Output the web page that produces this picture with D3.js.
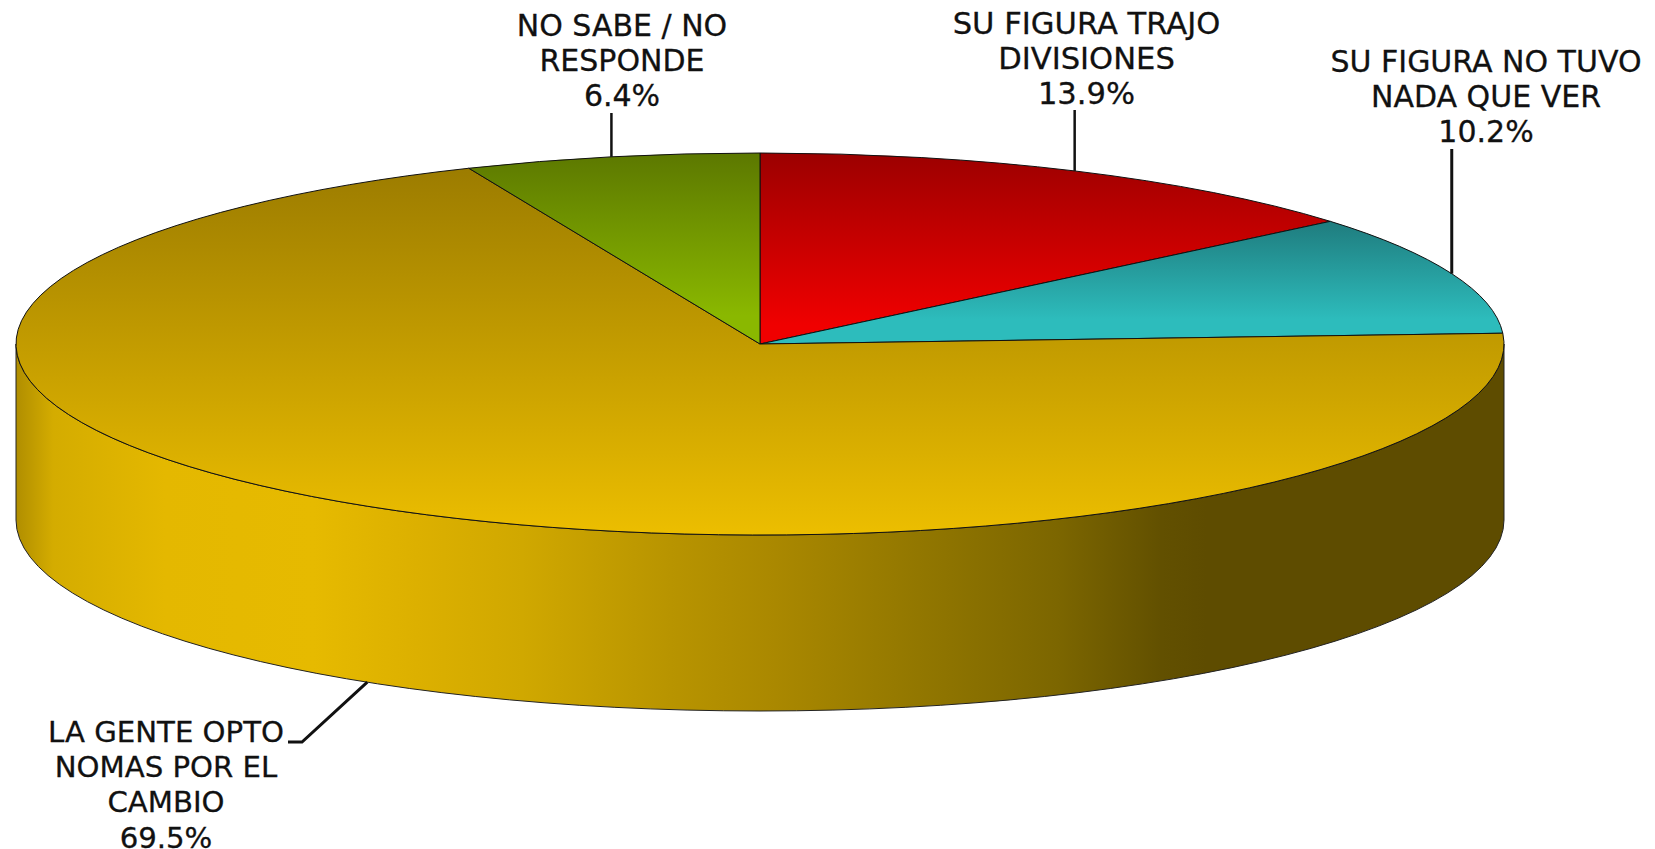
<!DOCTYPE html>
<html lang="en">
<head>
<meta charset="utf-8">
<title>3D Pie</title>
<script src="https://cdn.jsdelivr.net/npm/d3@7"></script>
<style>
  html, body { margin: 0; padding: 0; background: #fff; overflow: hidden; }
  text { font-family: "DejaVu Sans", sans-serif; fill: #111; stroke: #111; stroke-width: 0.3; }
</style>
</head>
<body>
<script>
var w = 1655;
var h = 849;

var categories = ["SU FIGURA TRAJO DIVISIONES", "SU FIGURA NO TUVO NADA QUE VER", "LA GENTE OPTO NOMAS POR EL CAMBIO", "NO SABE / NO RESPONDE"];
var values = [13.9, 10.2, 69.5, 6.4];
var labelLines = [
  ["SU FIGURA TRAJO", "DIVISIONES", "13.9%"],
  ["SU FIGURA NO TUVO", "NADA QUE VER", "10.2%"],
  ["LA GENTE OPTO", "NOMAS POR EL", "CAMBIO", "69.5%"],
  ["NO SABE / NO", "RESPONDE", "6.4%"]
];
var topColors = [
  [[0, "#9c0000"], [0.9, "#f00000"]],
  [[0, "#1f7c7e"], [0.8, "#2dbcbc"]],
  [[0, "#9c7c00"], [1, "#ecbe00"]],
  [[0, "#5c7800"], [0.85, "#8ab800"]]
];
var wallStops = [
  [0, "#b08e00"], [0.025, "#d4ac00"], [0.1, "#e4b800"], [0.2, "#e6ba00"], [0.27, "#dcb000"], [0.34, "#d0a800"],
  [0.44, "#b89400"], [0.51, "#aa8800"], [0.59, "#967a00"], [0.7, "#7c6600"], [0.77, "#625000"], [0.8, "#5e4c00"], [1, "#5e4c00"]
];

var cx = 760, cy = 344, rx = 744, ry = 191, depth = 176;

var svg = d3.select("body").append("svg").attr("width", w).attr("height", h);
var defs = svg.append("defs");

var pie = d3.pie().sort(null).value(function(d) { return d; });
var slices = pie(values);
var arc = d3.arc().innerRadius(0).outerRadius(rx);

function point(angle, drop) {
  return [cx + rx * Math.sin(angle), cy - ry * Math.cos(angle) + (drop || 0)];
}

// wall gradient, runs across the whole width
var wallGrad = defs.append("linearGradient").attr("id", "wall")
  .attr("gradientUnits", "userSpaceOnUse")
  .attr("x1", cx - rx).attr("x2", cx + rx).attr("y1", 0).attr("y2", 0);
wallGrad.selectAll("stop").data(wallStops).enter().append("stop")
  .attr("offset", function(d) { return d[0]; })
  .attr("stop-color", function(d) { return d[1]; });

topColors.forEach(function(c, i) {
  var g = defs.append("linearGradient").attr("id", "top" + i)
    .attr("x1", 0).attr("x2", 0).attr("y1", 0).attr("y2", 1);
  c.forEach(function(s) {
    g.append("stop").attr("offset", s[0]).attr("stop-color", s[1]);
  });
});

// side of the disc
var left = point(-Math.PI / 2), right = point(Math.PI / 2);
svg.append("path")
  .attr("d", "M" + left + "V" + (left[1] + depth)
    + "A" + rx + "," + ry + " 0 0 0 " + right[0] + "," + (right[1] + depth)
    + "V" + right[1]
    + "A" + rx + "," + ry + " 0 0 1 " + left[0] + "," + left[1] + "Z")
  .attr("fill", "url(#wall)")
  .attr("stroke", "#222")
  .attr("stroke-width", 1);

// top of the disc
svg.append("g")
  .attr("transform", "translate(" + cx + "," + cy + ") scale(1," + (ry / rx) + ")")
  .selectAll("path").data(slices).enter().append("path")
  .attr("d", arc)
  .attr("fill", function(d, i) { return "url(#top" + i + ")"; })
  .attr("stroke", "#111")
  .attr("stroke-width", 1)
  .attr("vector-effect", "non-scaling-stroke");

// leader lines
var leaderEnds = [[null, 110], [null, 149], [[302, 742], [288, 742]], [null, 113]];
var leaderWidths = [2.5, 3, 3, 2.5];
slices.forEach(function(s, i) {
  var mid = (s.startAngle + s.endAngle) / 2;
  var isFront = Math.cos(mid) < 0;
  var start = point(mid, isFront ? depth : 0);
  var pts = [start];
  if (leaderEnds[i][0]) {
    pts = pts.concat(leaderEnds[i]);
  } else {
    pts.push([start[0], leaderEnds[i][1]]);
  }
  svg.append("path")
    .attr("d", d3.line()(pts))
    .attr("fill", "none")
    .attr("stroke", "#111")
    .attr("stroke-width", leaderWidths[i]);
});

// labels
var labelX = [1086.5, 1486, 166, 622];
var labelY = [33.5, 72, 742, 36];
var labelSize = [30.6, 30, 29.2, 30];
var lineStep = 35.2;
slices.forEach(function(s, i) {
  var t = svg.append("text").attr("text-anchor", "middle").attr("font-size", labelSize[i]);
  labelLines[i].forEach(function(line, j) {
    t.append("tspan")
      .attr("x", labelX[i])
      .attr("y", labelY[i] + j * lineStep)
      .text(line);
  });
});
</script>
</body>
</html>
